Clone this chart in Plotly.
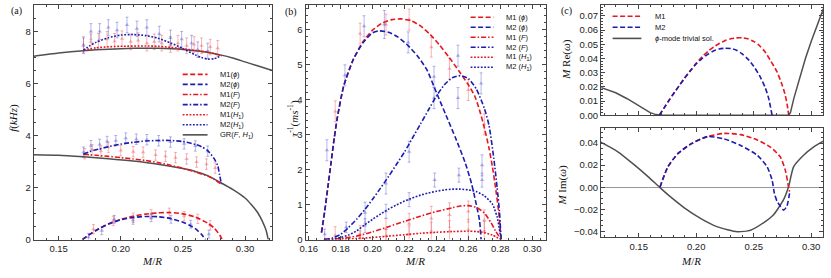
import plotly.graph_objects as go

RED = "#e8161e"
BLUE = "#1c1cb0"
GRAY = "#505050"
RED_PT = "rgba(236,80,86,0.42)"
BLUE_PT = "rgba(80,80,205,0.42)"
DASH = "5px,2.5px"
DASHDOT = "5px,2px,1.5px,2px"
DOT = "1.8px,1.6px"

# ---------------- Panel (a): frequencies ----------------
a_gr_up_x = [0.13, 0.15, 0.17, 0.19, 0.21, 0.23, 0.25, 0.27, 0.28, 0.29, 0.30, 0.31, 0.322]
a_gr_up_y = [7.05, 7.17, 7.26, 7.32, 7.35, 7.35, 7.31, 7.2, 7.1, 6.98, 6.83, 6.68, 6.5]
a_gr_lo_x = [0.13, 0.15, 0.17, 0.19, 0.21, 0.23, 0.25, 0.26, 0.27, 0.28, 0.29, 0.30, 0.305, 0.31, 0.314, 0.317, 0.3187]
a_gr_lo_y = [3.26, 3.24, 3.18, 3.11, 3.02, 2.9, 2.73, 2.62, 2.46, 2.2, 1.93, 1.6, 1.35, 1.05, 0.7, 0.35, 0.0]

a_m1h_x = [0.17, 0.18, 0.19, 0.20, 0.22, 0.23, 0.24, 0.25, 0.26, 0.27, 0.281]
a_m1h_y = [7.28, 7.37, 7.41, 7.43, 7.44, 7.43, 7.39, 7.33, 7.27, 7.2, 7.07]
a_m2h_x = [0.17, 0.175, 0.18, 0.19, 0.20, 0.21, 0.22, 0.23, 0.24, 0.25, 0.26, 0.265, 0.27, 0.275, 0.281]
a_m2h_y = [7.28, 7.45, 7.58, 7.76, 7.86, 7.88, 7.84, 7.74, 7.56, 7.34, 7.1, 7.0, 6.94, 6.95, 7.07]

a_m1f_x = [0.17, 0.18, 0.19, 0.20, 0.21, 0.22, 0.23, 0.24, 0.25, 0.26, 0.27, 0.275, 0.281]
a_m1f_y = [3.28, 3.24, 3.2, 3.15, 3.1, 3.04, 2.96, 2.86, 2.74, 2.6, 2.44, 2.32, 2.13]
a_m2f_x = [0.17, 0.175, 0.18, 0.19, 0.20, 0.21, 0.22, 0.23, 0.24, 0.25, 0.26, 0.265, 0.27, 0.275, 0.278, 0.2795, 0.281]
a_m2f_y = [3.28, 3.38, 3.45, 3.57, 3.67, 3.74, 3.79, 3.81, 3.81, 3.77, 3.66, 3.57, 3.42, 3.12, 2.85, 2.5, 2.13]

a_m1p_x = [0.169, 0.175, 0.18, 0.19, 0.20, 0.21, 0.22, 0.23, 0.24, 0.25, 0.26, 0.27, 0.275, 0.28, 0.2815]
a_m1p_y = [0.0, 0.2, 0.35, 0.6, 0.78, 0.9, 0.98, 1.03, 1.04, 0.99, 0.87, 0.63, 0.45, 0.15, 0.0]
a_m2p_x = [0.169, 0.175, 0.18, 0.19, 0.20, 0.21, 0.22, 0.23, 0.24, 0.25, 0.255, 0.26, 0.265, 0.2683]
a_m2p_y = [0.0, 0.2, 0.35, 0.6, 0.76, 0.85, 0.89, 0.88, 0.81, 0.67, 0.56, 0.42, 0.2, 0.0]

# sample points with error bars
a_p1u_x = [0.170, 0.176, 0.182, 0.189, 0.195, 0.201, 0.208, 0.214, 0.221, 0.227, 0.233, 0.240, 0.246, 0.253, 0.259, 0.265, 0.272, 0.278]
a_p1u_y = [7.5, 7.6, 7.62, 7.7, 7.62, 7.72, 7.6, 7.65, 7.55, 7.6, 7.55, 7.5, 7.55, 7.45, 7.5, 7.45, 7.4, 7.35]
a_p2u_x = [0.170, 0.176, 0.183, 0.190, 0.197, 0.205, 0.213, 0.221, 0.231, 0.240, 0.249, 0.257, 0.262, 0.270]
a_p2u_y = [7.45, 8.0, 8.0, 8.15, 8.05, 8.25, 8.1, 8.15, 7.9, 7.75, 7.7, 7.55, 7.3, 7.25]
a_p1m_x = [0.171, 0.177, 0.184, 0.190, 0.200, 0.210, 0.218, 0.228, 0.236, 0.244, 0.253, 0.261, 0.269, 0.276]
a_p1m_y = [3.3, 3.45, 3.4, 3.55, 3.42, 3.38, 3.36, 3.25, 3.2, 3.15, 3.1, 2.98, 2.9, 2.75]
a_p2m_x = [0.170, 0.176, 0.183, 0.189, 0.196, 0.204, 0.2125, 0.221, 0.2305, 0.240, 0.251, 0.260, 0.270]
a_p2m_y = [3.36, 3.61, 3.66, 3.77, 3.8, 3.9, 3.86, 3.84, 3.8, 3.75, 3.68, 3.6, 3.4]
a_p1l_x = [0.178, 0.194, 0.210, 0.2245, 0.239, 0.251, 0.262, 0.272]
a_p1l_y = [0.4, 0.72, 0.84, 0.97, 1.03, 0.9, 0.8, 0.55]
a_p2l_x = [0.174, 0.1847, 0.1948, 0.2099, 0.2245, 0.2404, 0.2563, 0.2709]
a_p2l_y = [0.09, 0.34, 0.78, 0.74, 0.84, 0.78, 0.59, 0.21]

# ---------------- Panel (b): damping ----------------
b_m1p_x = [0.168, 0.170, 0.172, 0.174, 0.176, 0.178, 0.182, 0.188, 0.194, 0.200, 0.206, 0.212, 0.218, 0.224, 0.230, 0.236, 0.242, 0.248, 0.254, 0.260, 0.264, 0.267, 0.270, 0.273, 0.275, 0.277, 0.279, 0.2805]
b_m1p_y = [0.2, 0.8, 1.5, 2.2, 2.9, 3.5, 4.4, 5.15, 5.65, 5.98, 6.18, 6.28, 6.3, 6.25, 6.1, 5.86, 5.55, 5.2, 4.82, 4.42, 4.1, 3.7, 3.2, 2.6, 2.1, 1.5, 0.8, 0.0]
b_m2p_x = [0.168, 0.170, 0.172, 0.174, 0.176, 0.178, 0.182, 0.188, 0.194, 0.200, 0.204, 0.210, 0.216, 0.222, 0.228, 0.234, 0.240, 0.246, 0.252, 0.258, 0.262, 0.265, 0.267, 0.268]
b_m2p_y = [0.2, 0.8, 1.5, 2.2, 2.9, 3.5, 4.4, 5.15, 5.62, 5.9, 5.96, 5.92, 5.78, 5.55, 5.25, 4.85, 4.2, 3.55, 2.9, 2.2, 1.6, 1.0, 0.55, 0.0]
b_m1f_x = [0.170, 0.180, 0.190, 0.200, 0.210, 0.220, 0.230, 0.240, 0.250, 0.255, 0.260, 0.265, 0.270, 0.274, 0.277, 0.2805]
b_m1f_y = [0.0, 0.03, 0.1, 0.22, 0.37, 0.52, 0.67, 0.8, 0.91, 0.96, 0.97, 0.92, 0.76, 0.5, 0.25, 0.0]
b_m2f_x = [0.170, 0.175, 0.180, 0.185, 0.190, 0.195, 0.200, 0.205, 0.210, 0.215, 0.220, 0.225, 0.230, 0.235, 0.240, 0.245, 0.250, 0.255, 0.260, 0.265, 0.270, 0.273, 0.276, 0.278, 0.2795, 0.2805]
b_m2f_y = [0.0, 0.05, 0.15, 0.35, 0.58, 0.85, 1.15, 1.47, 1.8, 2.15, 2.5, 2.9, 3.3, 3.7, 4.1, 4.42, 4.62, 4.68, 4.6, 4.3, 3.75, 3.25, 2.3, 1.5, 0.8, 0.0]
b_m1h_x = [0.170, 0.180, 0.190, 0.200, 0.210, 0.220, 0.230, 0.240, 0.250, 0.260, 0.265, 0.270, 0.275, 0.2805]
b_m1h_y = [0.0, 0.01, 0.03, 0.06, 0.1, 0.14, 0.18, 0.21, 0.23, 0.24, 0.23, 0.2, 0.13, 0.0]
b_m2h_x = [0.170, 0.175, 0.180, 0.185, 0.190, 0.195, 0.200, 0.205, 0.210, 0.215, 0.220, 0.225, 0.230, 0.235, 0.240, 0.245, 0.250, 0.255, 0.260, 0.265, 0.270, 0.275, 0.278, 0.2805]
b_m2h_y = [0.0, 0.02, 0.06, 0.13, 0.25, 0.42, 0.58, 0.73, 0.87, 0.99, 1.1, 1.19, 1.27, 1.33, 1.38, 1.42, 1.44, 1.44, 1.42, 1.37, 1.25, 1.02, 0.65, 0.0]

b_p1_x = [0.1766, 0.1922, 0.2084, 0.2229, 0.2368, 0.2482, 0.2600, 0.2700, 0.1766, 0.1922, 0.2084, 0.2229, 0.2368, 0.2482, 0.2600, 0.2700, 0.1922, 0.2084, 0.2229, 0.2368, 0.2482, 0.2600, 0.2700]
b_p1_y = [3.66, 5.88, 6.14, 6.28, 5.49, 4.88, 4.27, 3.29, 0.12, 0.15, 0.3, 0.45, 0.6, 0.7, 0.8, 0.55, 0.05, 0.1, 0.14, 0.2, 0.24, 0.28, 0.22]
b_p1_e = [0.3, 0.3, 0.3, 0.3, 0.28, 0.3, 0.3, 0.3, 0.25, 0.25, 0.3, 0.3, 0.35, 0.35, 0.3, 0.3, 0.2, 0.2, 0.25, 0.3, 0.3, 0.3, 0.3]
b_p2_x = [0.1827, 0.1947, 0.2074, 0.2223, 0.2385, 0.2385, 0.2535, 0.2535, 0.2680, 0.1700, 0.1714, 0.1835, 0.1953, 0.1953, 0.2084, 0.2084, 0.2229, 0.2229, 0.2389, 0.2541, 0.2686, 0.2686]
b_p2_y = [4.69, 6.09, 6.14, 5.63, 4.65, 4.04, 5.25, 4.04, 4.46, 0.15, 2.55, 0.35, 0.77, 0.4, 1.6, 0.81, 2.51, 1.14, 1.7, 1.84, 2.12, 1.7]
b_p2_e = [0.3, 0.3, 0.4, 0.3, 0.3, 0.3, 0.3, 0.3, 0.3, 0.15, 0.3, 0.15, 0.3, 0.2, 0.3, 0.2, 0.3, 0.2, 0.2, 0.2, 0.3, 0.2]

# ---------------- Panel (c): complex frequency ----------------
c_tr_re_x = [0.1175, 0.125, 0.13, 0.14, 0.15, 0.155, 0.16, 0.165, 0.17, 0.2805, 0.282, 0.285, 0.29, 0.295, 0.30, 0.305, 0.3106]
c_tr_re_y = [0.0194, 0.0172, 0.0158, 0.0116, 0.0068, 0.0042, 0.0018, 0.0004, 0.0, 0.0, 0.002, 0.012, 0.027, 0.040, 0.052, 0.063, 0.075]
c_m1_re_x = [0.168, 0.172, 0.176, 0.18, 0.185, 0.19, 0.195, 0.20, 0.205, 0.21, 0.215, 0.22, 0.225, 0.23, 0.235, 0.24, 0.245, 0.25, 0.255, 0.26, 0.265, 0.27, 0.274, 0.277, 0.279, 0.2805]
c_m1_re_y = [0.0, 0.005, 0.01, 0.0148, 0.0205, 0.0262, 0.0315, 0.0365, 0.041, 0.0448, 0.048, 0.0505, 0.0525, 0.0538, 0.0545, 0.0545, 0.0538, 0.052, 0.049, 0.0445, 0.038, 0.031, 0.023, 0.0155, 0.008, 0.0]
c_m2_re_x = [0.168, 0.172, 0.176, 0.18, 0.185, 0.19, 0.195, 0.20, 0.205, 0.21, 0.215, 0.22, 0.225, 0.23, 0.235, 0.24, 0.245, 0.25, 0.255, 0.26, 0.263, 0.266]
c_m2_re_y = [0.0, 0.005, 0.01, 0.0148, 0.0205, 0.0262, 0.0313, 0.0362, 0.0398, 0.0428, 0.0452, 0.0466, 0.0472, 0.047, 0.0458, 0.0432, 0.0395, 0.0345, 0.028, 0.0195, 0.012, 0.0]

c_tr_im_x = [0.117, 0.1322, 0.1465, 0.1581, 0.1668, 0.1754, 0.1897, 0.2041, 0.2186, 0.2358, 0.2473, 0.2588, 0.2675, 0.276, 0.2804, 0.2847, 0.2934, 0.302, 0.3106]
c_tr_im_y = [0.0408, 0.0319, 0.02, 0.0096, 0.0013, -0.0068, -0.0187, -0.0285, -0.036, -0.0404, -0.039, -0.0321, -0.0247, -0.0113, 0.0006, 0.0185, 0.029, 0.0363, 0.0417]
c_m1_im_x = [0.1685, 0.1754, 0.184, 0.1955, 0.2099, 0.2243, 0.2387, 0.2531, 0.2646, 0.2732, 0.2775, 0.2804, 0.2812]
c_m1_im_y = [0.0, 0.0185, 0.0304, 0.0393, 0.0459, 0.0488, 0.0477, 0.0429, 0.0363, 0.0274, 0.0155, 0.0, -0.004]
c_m2_im_x = [0.1685, 0.1754, 0.184, 0.1955, 0.2099, 0.2243, 0.2387, 0.2531, 0.2617, 0.266, 0.268, 0.2703, 0.2732, 0.276, 0.2789, 0.2812]
c_m2_im_y = [0.0, 0.0185, 0.0304, 0.0393, 0.0459, 0.0438, 0.0379, 0.029, 0.0185, 0.0066, -0.0054, -0.0128, -0.0172, -0.0208, -0.0172, -0.0054]

fig = go.Figure()


def curve(x, y, color, dash, xa, ya, width=1.6, shape="spline"):
    fig.add_trace(go.Scatter(x=x, y=y, mode="lines", xaxis=xa, yaxis=ya, showlegend=False,
                             line=dict(color=color, dash=dash, width=width, shape=shape, smoothing=0.6),
                             hoverinfo="skip"))


def points(x, y, err, color, xa, ya):
    fig.add_trace(go.Scatter(x=x, y=y, mode="markers", xaxis=xa, yaxis=ya, showlegend=False,
                             marker=dict(symbol="triangle-up", size=4, color=color),
                             error_y=dict(type="data", array=err, color=color, thickness=1, width=1.5),
                             hoverinfo="skip"))


# panel (a)
points(a_p1u_x, a_p1u_y, [0.3] * len(a_p1u_x), RED_PT, "x", "y")
points(a_p2u_x, a_p2u_y, [0.3] * len(a_p2u_x), BLUE_PT, "x", "y")
points(a_p1m_x, a_p1m_y, [0.2] * len(a_p1m_x), RED_PT, "x", "y")
points(a_p2m_x, a_p2m_y, [0.2] * len(a_p2m_x), BLUE_PT, "x", "y")
points(a_p1l_x, a_p1l_y, [0.18] * len(a_p1l_x), RED_PT, "x", "y")
points(a_p2l_x, a_p2l_y, [0.15] * len(a_p2l_x), BLUE_PT, "x", "y")
curve(a_gr_up_x, a_gr_up_y, GRAY, "solid", "x", "y", 1.5)
curve(a_gr_lo_x, a_gr_lo_y, GRAY, "solid", "x", "y", 1.5)
curve(a_m1h_x, a_m1h_y, RED, DOT, "x", "y")
curve(a_m2h_x, a_m2h_y, BLUE, DOT, "x", "y")
curve(a_m1f_x, a_m1f_y, RED, DASHDOT, "x", "y")
curve(a_m2f_x, a_m2f_y, BLUE, DASHDOT, "x", "y")
curve(a_m1p_x, a_m1p_y, RED, DASH, "x", "y")
curve(a_m2p_x, a_m2p_y, BLUE, DASH, "x", "y")

# panel (b)
points(b_p1_x, b_p1_y, b_p1_e, RED_PT, "x2", "y2")
points(b_p2_x, b_p2_y, b_p2_e, BLUE_PT, "x2", "y2")
curve(b_m1p_x, b_m1p_y, RED, DASH, "x2", "y2")
curve(b_m2p_x, b_m2p_y, BLUE, DASH, "x2", "y2")
curve(b_m1f_x, b_m1f_y, RED, DASHDOT, "x2", "y2")
curve(b_m2f_x, b_m2f_y, BLUE, DASHDOT, "x2", "y2")
curve(b_m1h_x, b_m1h_y, RED, DOT, "x2", "y2")
curve(b_m2h_x, b_m2h_y, BLUE, DOT, "x2", "y2")

# panel (c)
curve(c_tr_re_x, c_tr_re_y, GRAY, "solid", "x3", "y3", 1.5, "linear")
curve(c_m1_re_x, c_m1_re_y, RED, DASH, "x3", "y3")
curve(c_m2_re_x, c_m2_re_y, BLUE, DASH, "x3", "y3")
curve(c_tr_im_x, c_tr_im_y, GRAY, "solid", "x4", "y4", 1.5)
curve(c_m1_im_x, c_m1_im_y, RED, DASH, "x4", "y4")
curve(c_m2_im_x, c_m2_im_y, BLUE, DASH, "x4", "y4")

W, H = 831, 278
TICKFONT = dict(family="Liberation Sans Narrow, Liberation Sans, Arial", size=9.5, color="#222")


def px(v):
    return v / W


def py(v):
    return 1 - v / H


def axis(domain, rng, dtick, mdtick, fmt, labels=True, anchor=None, zeroline=False):
    return dict(domain=domain, range=rng, dtick=dtick, tickformat=fmt, ticks="inside", ticklen=4,
                tickcolor="#444", showline=True, mirror="allticks", linecolor="#444", linewidth=1,
                showgrid=False, zeroline=zeroline, zerolinecolor="#999", zerolinewidth=1,
                showticklabels=labels, tickfont=TICKFONT, anchor=anchor,
                minor=dict(dtick=mdtick, ticks="inside", ticklen=2, tickcolor="#444", showgrid=False))


ya_dom = [py(244), py(5)]
fig.update_layout(
    width=W, height=H, margin=dict(l=0, r=0, t=0, b=0),
    paper_bgcolor="white", plot_bgcolor="white",
    xaxis=axis([px(28), px(268.3)], [0.13, 0.322], 0.05, 0.01, ".2f", anchor="y"),
    yaxis=axis(ya_dom, [0, 9.02], 2, 0.5, "d", anchor="x"),
    xaxis2=axis([px(301.7), px(544)], [0.158, 0.3087], 0.02, 0.005, ".2f", anchor="y2"),
    yaxis2=axis(ya_dom, [0, 6.7], 1, 0.2, "d", anchor="x2"),
    xaxis3=axis([px(599.3), px(823.3)], [0.1172, 0.3106], 0.05, 0.01, ".2f", labels=False, anchor="y3"),
    yaxis3=axis([py(117.3), py(5)], [0, 0.0777], 0.01, 0.002, ".2f", anchor="x3"),
    xaxis4=axis([px(599.3), px(823.3)], [0.1172, 0.3106], 0.05, 0.01, ".2f", anchor="y4"),
    yaxis4=axis([py(241.7), py(130)], [-0.0455, 0.054], 0.02, 0.005, ".2f", anchor="x4", zeroline=True),
)

SERIF = "Liberation Serif, Times New Roman, serif"
SANS = "Liberation Sans, Arial, sans-serif"
ann = []


def text(x, y, s, size=10, family=SERIF, angle=0, xanchor="center"):
    ann.append(dict(x=px(x), y=py(y), xref="paper", yref="paper", text=s, showarrow=False,
                    font=dict(family=family, size=size, color="#111"), textangle=angle,
                    xanchor=xanchor, yanchor="middle"))


# panel labels
text(11, 11, "(a)", 10)
text(287, 12, "(b)", 10)
text(565, 11, "(c)", 10)
# axis titles
for cx in (147, 412, 690):
    text(cx, 266, "<i>M</i>/<i>R</i>", 11)
text(8, 120, "<i>f</i>(<i>kHz</i>)", 11, angle=-90)
text(290, 120, "<i>τ</i><sup>-1</sup>(<i>ms</i><sup>-1</sup>)", 11, angle=-90)
text(565, 60, "<i>M</i> Re(<i>ω</i>)", 11, angle=-90)
text(561, 188, "<i>M</i> Im(<i>ω</i>)", 11, angle=-90)

shapes = []


def leg(x0, x1, y, color, dash, width=1.6):
    shapes.append(dict(type="line", xref="paper", yref="paper", x0=px(x0), x1=px(x1), y0=py(y), y1=py(y),
                       line=dict(color=color, dash=dash, width=width)))


# legend (a)
a_leg = [("M1(<i>ϕ</i>)", RED, DASH), ("M2(<i>ϕ</i>)", BLUE, DASH), ("M1(<i>F</i>)", RED, DASHDOT),
         ("M2(<i>F</i>)", BLUE, DASHDOT), ("M1(<i>H</i><sub>1</sub>)", RED, DOT),
         ("M2(<i>H</i><sub>1</sub>)", BLUE, DOT), ("GR(<i>F</i>, <i>H</i><sub>1</sub>)", GRAY, "solid")]
for i, (lab, col, dsh) in enumerate(a_leg):
    yy = 75.7 + i * 10.27
    leg(178, 203, yy, col, dsh)
    text(214, yy, lab, 7.5, SANS, xanchor="left")

# legend (b)
b_leg = [("M1 (<i>ϕ</i>)", RED, DASH), ("M2 (<i>ϕ</i>)", BLUE, DASH), ("M1 (<i>F</i>)", RED, DASHDOT),
         ("M2 (<i>F</i>)", BLUE, DASHDOT), ("M1 (<i>H</i><sub>1</sub>)", RED, DOT),
         ("M2 (<i>H</i><sub>1</sub>)", BLUE, DOT)]
for i, (lab, col, dsh) in enumerate(b_leg):
    yy = 17.5 + i * 10.2
    leg(468, 491, yy, col, dsh)
    text(502, yy, lab, 7.5, SANS, xanchor="left")

# legend (c)
c_leg = [("M1", RED, DASH), ("M2", BLUE, DASH), ("<i>ϕ</i>-mode trivial sol.", GRAY, "solid")]
for i, (lab, col, dsh) in enumerate(c_leg):
    yy = 16.5 + i * 11.3
    leg(611, 640, yy, col, dsh)
    text(652, yy, lab, 7.5, SANS, xanchor="left")

fig.update_layout(annotations=ann, shapes=shapes)
fig.write_html("out.html", config={"displayModeBar": False},
               post_script="document.body.style.margin='0';document.body.style.overflow='hidden';")
